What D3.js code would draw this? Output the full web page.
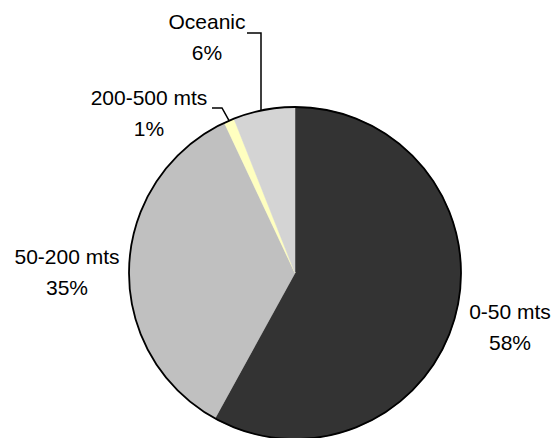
<!DOCTYPE html>
<html>
<head>
<meta charset="utf-8">
<script src="https://cdn.jsdelivr.net/npm/d3@7"></script>
<style>
  html, body { margin: 0; padding: 0; background: #ffffff; }
  svg { display: block; }
  text { font-family: "Liberation Sans", Arial, sans-serif; fill: #000; }
</style>
</head>
<body>
<svg id="chart" width="552" height="438"></svg>
<script>
// Depth ranges and their share of the total (percent)
const categories = ["0-50 mts", "50-200 mts", "200-500 mts", "Oceanic"];
const shares = [58, 35, 1, 6];
const percentLabels = ["58%", "35%", "1%", "6%"];

const colors = ["#333333", "#c0c0c0", "#ffffc0", "#d4d4d4"];

const width = 552, height = 438;
const cx = 295, cy = 273, radius = 166;

// Label placement: line centre x, first baseline, optional leader elbow
const labelLayout = {
  "0-50 mts":    { x: 510, y: 319 },
  "50-200 mts":  { x: 67,  y: 264 },
  "200-500 mts": { x: 149, y: 105, lead: { x0: 212, y0: 108, x1: 222 } },
  "Oceanic":     { x: 207, y: 29,  lead: { x0: 247, y0: 33, x1: 261, vertical: true } }
};
const lineGap = 31;

const svg = d3.select("#chart");
const g = svg.append("g").attr("transform", `translate(${cx},${cy})`);

const rows = categories.map((c, i) => ({ category: c, value: shares[i], label: percentLabels[i], color: colors[i] }));

const pie = d3.pie().value(d => d.value).sort(null).startAngle(0).endAngle(2 * Math.PI);
const arcs = pie(rows);
const arc = d3.arc().innerRadius(0).outerRadius(radius);

g.selectAll("path.slice")
  .data(arcs)
  .join("path")
  .attr("class", "slice")
  .attr("d", arc)
  .attr("fill", d => d.data.color)
  .attr("stroke", d => d.data.color)
  .attr("stroke-width", 0.5);

// Outer rim
g.append("circle")
  .attr("r", radius)
  .attr("fill", "none")
  .attr("stroke", "#000")
  .attr("stroke-width", 1.8);

// Leader lines from the labels to the slice edge
arcs.forEach(a => {
  const lay = labelLayout[a.data.category];
  if (!lay.lead) return;
  const mid = (a.startAngle + a.endAngle) / 2;
  let ex = cx + radius * Math.sin(mid);
  let ey = cy - radius * Math.cos(mid);
  let x1 = lay.lead.x1;
  if (lay.lead.vertical) {
    ex = x1;
    ey = cy - Math.sqrt(radius * radius - (x1 - cx) * (x1 - cx));
  }
  svg.append("polyline")
    .attr("points", `${lay.lead.x0},${lay.lead.y0} ${x1},${lay.lead.y0} ${ex},${ey}`)
    .attr("fill", "none")
    .attr("stroke", "#000")
    .attr("stroke-width", 1.5);
});

// Category and percentage labels
const labels = svg.selectAll("g.label")
  .data(arcs)
  .join("g")
  .attr("class", "label");

labels.append("text")
  .attr("x", d => labelLayout[d.data.category].x)
  .attr("y", d => labelLayout[d.data.category].y)
  .attr("text-anchor", "middle")
  .attr("font-size", 21)
  .text(d => d.data.category);

labels.append("text")
  .attr("x", d => labelLayout[d.data.category].x)
  .attr("y", d => labelLayout[d.data.category].y + lineGap)
  .attr("text-anchor", "middle")
  .attr("font-size", 21)
  .text(d => d.data.label);
</script>
</body>
</html>
